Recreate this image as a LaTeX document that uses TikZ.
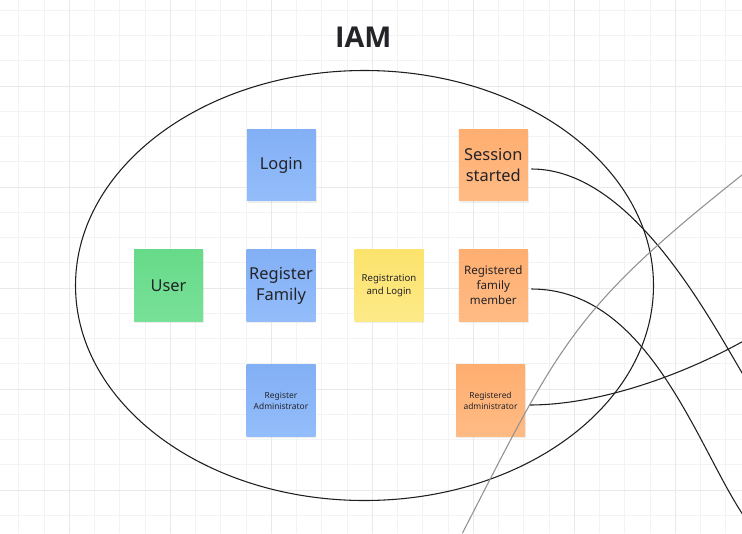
\documentclass[tikz,border=0pt]{standalone}
\usepackage{fontspec}
\setmainfont{Noto Sans}
\newfontfamily\titlefont{Open Sans}
\usetikzlibrary{shadows}
\definecolor{gridminor}{RGB}{243,243,243}
\definecolor{gridmajor}{RGB}{233,233,233}
\definecolor{notetext}{RGB}{35,35,40}
\definecolor{blueA}{RGB}{131,175,245}
\definecolor{blueB}{RGB}{147,189,250}
\definecolor{greenA}{RGB}{103,218,137}
\definecolor{greenB}{RGB}{120,225,152}
\definecolor{yellowA}{RGB}{252,227,108}
\definecolor{yellowB}{RGB}{253,234,136}
\definecolor{orangeA}{RGB}{255,174,112}
\definecolor{orangeB}{RGB}{255,187,132}
\definecolor{linkcol}{RGB}{30,30,30}
\definecolor{greylink}{RGB}{145,145,145}
\begin{document}
\begin{tikzpicture}[x=0.75pt, y=-0.75pt, line join=round, line cap=round,
  note/.style={minimum width=51.75pt, minimum height=53.6pt, inner sep=1pt, align=center, text=notetext,
    drop shadow={shadow xshift=0.6pt, shadow yshift=-1.4pt, opacity=0.13}},
  bluenote/.style={note, top color=blueA, bottom color=blueB},
  greennote/.style={note, top color=greenA, bottom color=greenB},
  yellownote/.style={note, top color=yellowA, bottom color=yellowB},
  orangenote/.style={note, top color=orangeA, bottom color=orangeB},
  bigtext/.style={font=\fontsize{12.3}{15.75}\selectfont},
  midtext/.style={font=\fontsize{8.7}{11.25}\selectfont},
  smalltext/.style={font=\fontsize{7.2}{9.75}\selectfont},
  tinytext/.style={font=\fontsize{6.3}{8.3}\selectfont},
  link/.style={draw=linkcol, line width=0.8pt},
  greyline/.style={draw=greylink, line width=0.8pt}]
\useasboundingbox (0,0) rectangle (742,533);
\fill[white] (0,0) rectangle (742,533);
\clip (0,0) rectangle (742,533);
\foreach \i in {0,...,28} \draw[gridminor, line width=0.75pt] ({18.8+25.25*\i},0) -- ({18.8+25.25*\i},533);
\foreach \j in {0,...,21} \draw[gridminor, line width=0.75pt] (0,{10.25+25.25*\j}) -- (742,{10.25+25.25*\j});
\foreach \i in {2,6,...,26} \draw[gridmajor, line width=0.75pt] ({18.8+25.25*\i},0) -- ({18.8+25.25*\i},533);
\foreach \j in {3,7,...,19} \draw[gridmajor, line width=0.75pt] (0,{10.25+25.25*\j}) -- (742,{10.25+25.25*\j});

\node (title) at (363.3,47.3) [anchor=base, text=notetext, font=\titlefont\fontsize{21.5}{26}\selectfont\bfseries] {IAM};

\node (login) at (281.3,165) [bluenote, bigtext] {Login};
\node (user) at (168.5,285.5) [greennote, bigtext] {User};
\node (regfamily) at (281,285.5) [bluenote, bigtext] {Register\\Family};
\node (reglogin) at (389,285.5) [yellownote, smalltext] {Registration\\and Login};
\node (regadmin) at (281,400.5) [bluenote, tinytext] {Register\\Administrator};
\node (session) at (493.3,165) [orangenote, bigtext] {Session\\started};
\node (member) at (493.3,285.5) [orangenote, midtext] {Registered\\family\\member};
\node (admin) at (490.5,400.5) [orangenote, tinytext] {Registered\\administrator};

\draw[link] (364.5,285.5) ellipse [x radius=289, y radius=215];

\coordinate (sessionEnd) at (743,374.5);
\coordinate (memberEnd) at (743,514.8);
\coordinate (adminEnd) at (743,341.3);
\coordinate (greyStart) at (462.5,533);
\coordinate (greyEnd) at (743,174.2);
\draw[link] ([shift={(3.5,4)}]session.east) .. controls (629.3,169) and (704.8,309.8) .. (sessionEnd);
\draw[link] ([shift={(3.5,3.5)}]member.east) .. controls (648.2,289) and (696.8,445.6) .. (memberEnd);
\draw[link] ([shift={(4,4.5)}]admin.east) .. controls (599.2,405) and (681.7,375.3) .. (adminEnd);
\draw[greyline] (greyStart) .. controls (560,343) and (573.6,308.4) .. (greyEnd);
\end{tikzpicture}
\end{document}
